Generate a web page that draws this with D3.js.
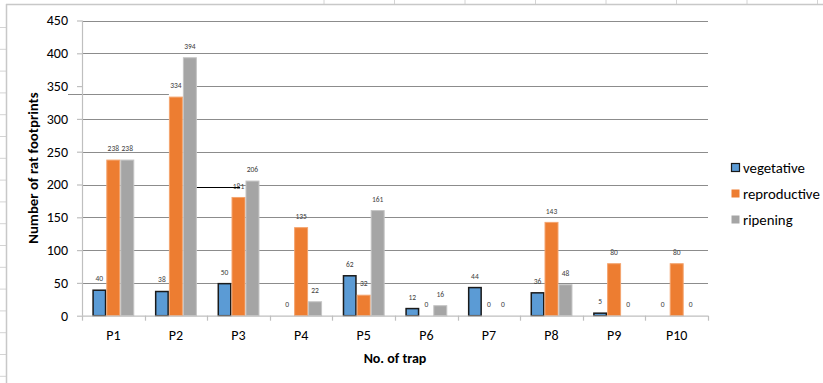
<!DOCTYPE html>
<html>
<head>
<meta charset="utf-8">
<script src="https://cdn.jsdelivr.net/npm/d3@7/dist/d3.min.js"></script>
<style>
  html, body { margin: 0; padding: 0; background: #fff; }
  svg { display: block; }
  text { font-family: Calibri, Carlito, Lato, "Noto Sans", sans-serif; }
</style>
</head>
<body>
<svg id="chart" width="823" height="383"></svg>
<script>
// Trap categories and rat-footprint counts per crop stage
const categories = ["P1", "P2", "P3", "P4", "P5", "P6", "P7", "P8", "P9", "P10"];
const seriesNames = ["vegetative", "reproductive", "ripening"];
const vegetative   = [40, 38, 50, 0, 62, 12, 44, 36, 5, 0];
const reproductive = [238, 334, 181, 135, 32, 0, 0, 143, 80, 80];
const ripening     = [238, 394, 206, 22, 161, 16, 0, 48, 0, 0];
const yTicks = [0, 50, 100, 150, 200, 250, 300, 350, 400, 450];

const seriesValues = [vegetative, reproductive, ripening];
const colors = ["#5B9BD5", "#ED7D31", "#A5A5A5"];
const strokes = ["#1a1a1a", "#f4a46e", "#c4c4c4"];

const svg = d3.select("#chart");
const W = 823, H = 383;
const plot = { left: 82, right: 708, top: 20.5, bottom: 315.7 };
const fontStack = "Calibri, Carlito, Lato, 'Noto Sans', sans-serif";

// Worksheet cells behind the chart object
const sheet = svg.append("g");
for (let x = 324; x < W; x += 70.5) {
  sheet.append("line").attr("x1", x).attr("x2", x).attr("y1", 0).attr("y2", 4)
    .attr("stroke", "#d4d4d4").attr("stroke-width", 1);
}
for (let y = 27.5; y < H; y += 21.8) {
  sheet.append("line").attr("x1", 0).attr("x2", 6).attr("y1", y).attr("y2", y)
    .attr("stroke", "#d4d4d4").attr("stroke-width", 1);
}
// Chart object frame
svg.append("line").attr("x1", 6).attr("x2", W).attr("y1", 4.5).attr("y2", 4.5)
  .attr("stroke", "#c8c8c8").attr("stroke-width", 1.5);
svg.append("line").attr("x1", 6.5).attr("x2", 6.5).attr("y1", 4).attr("y2", H)
  .attr("stroke", "#c8c8c8").attr("stroke-width", 1.5);

const x0 = d3.scaleBand().domain(categories).range([plot.left, plot.right]).padding(0);
const x1 = d3.scaleBand().domain(seriesNames)
  .range([x0.bandwidth() * 0.165, x0.bandwidth() * 0.835]).padding(0);
const y = d3.scaleLinear().domain([0, 450]).range([plot.bottom, plot.top]);

// Ends of the stray connector near P3 (it replaces a piece of the 200 gridline)
const strayX1 = x0("P2") + x1("ripening") + x1.bandwidth();
const strayX2 = x0("P3") + x1("reproductive") + 8.5;

// Horizontal gridlines
const grid = svg.append("g");
const gridSeg = (xa, xb, yy) => grid.append("line").attr("x1", xa).attr("x2", xb)
  .attr("y1", yy).attr("y2", yy).attr("stroke", "#8c8c8c").attr("stroke-width", 1);
yTicks.filter(t => t > 0).forEach(t => {
  const yy = Math.round(y(t)) + 0.5;
  if (t === 350) {
    gridSeg(strayX1, plot.right, yy);
    // offset stretch of this gridline
    gridSeg(plot.left - 14, x0("P2") + x1("reproductive"), yy + 8);
  } else if (t === 200) {
    gridSeg(plot.left, strayX1, yy);
    gridSeg(strayX2, plot.right, yy);
  } else {
    gridSeg(plot.left, plot.right, yy);
  }
});

// Bars
const groups = svg.append("g").selectAll("g").data(categories).join("g")
  .attr("transform", d => `translate(${x0(d)},0)`);

seriesNames.forEach((s, si) => {
  groups.append("rect")
    .attr("x", x1(s) + (si === 0 ? 0.75 : 0.5))
    .attr("width", x1.bandwidth() - (si === 0 ? 1.5 : 1))
    .attr("y", (d, i) => y(seriesValues[si][i]) + (si === 0 ? 0.75 : 0.5))
    .attr("height", (d, i) => Math.max(0, y(0) - y(seriesValues[si][i]) - (si === 0 ? 0.75 : 0.5)))
    .attr("fill", colors[si])
    .attr("stroke", (d, i) => seriesValues[si][i] > 0 ? strokes[si] : "none")
    .attr("stroke-width", si === 0 ? 1.5 : 1);
});

// Stray connector line near P3
svg.append("line")
  .attr("x1", strayX1).attr("x2", strayX2)
  .attr("y1", Math.round(y(200)) + 2.5).attr("y2", Math.round(y(200)) + 2.5)
  .attr("stroke", "#000").attr("stroke-width", 1);

// Value labels
seriesNames.forEach((s, si) => {
  groups.append("text")
    .attr("x", x1(s) + x1.bandwidth() / 2)
    .attr("y", (d, i) => y(seriesValues[si][i]) - 8.3)
    .attr("text-anchor", "middle")
    .attr("font-size", 7.5)
    .attr("fill", "#404040")
    .text((d, i) => seriesValues[si][i]);
});

// Axes
const xAxis = svg.append("g").attr("transform", `translate(0,${plot.bottom})`)
  .call(d3.axisBottom(x0).tickSize(0).tickPadding(14));
xAxis.select(".domain").remove();
xAxis.selectAll("text").attr("font-size", 14).attr("fill", "#000")
  .style("font-family", fontStack);
xAxis.append("line").attr("x1", plot.left).attr("x2", plot.right)
  .attr("y1", 0.5).attr("y2", 0.5).attr("stroke", "#bfbfbf").attr("stroke-width", 1.2);
d3.range(categories.length + 1).forEach(i => {
  const xx = Math.round(plot.left + i * x0.bandwidth()) + 0.5;
  xAxis.append("line").attr("x1", xx).attr("x2", xx).attr("y1", 0).attr("y2", 5)
    .attr("stroke", "#bfbfbf").attr("stroke-width", 1.2);
});

const yAxis = svg.append("g").attr("transform", `translate(${plot.left},0)`)
  .call(d3.axisLeft(y).tickValues(yTicks).tickSize(5).tickPadding(9));
yAxis.select(".domain").attr("stroke", "#bfbfbf").attr("stroke-width", 1.2)
  .attr("d", `M0.5,${plot.top}V${plot.bottom}`);
yAxis.selectAll(".tick line").attr("stroke", "#bfbfbf").attr("stroke-width", 1.2);
yAxis.selectAll("text").attr("font-size", 14).attr("fill", "#000")
  .style("font-family", fontStack);

// Axis titles
svg.append("text").attr("x", (plot.left + plot.right) / 2).attr("y", 363)
  .attr("text-anchor", "middle").attr("font-size", 14).attr("font-weight", "bold")
  .text("No. of trap");
svg.append("text")
  .attr("transform", `translate(38,${(plot.top + plot.bottom) / 2}) rotate(-90)`)
  .attr("text-anchor", "middle").attr("font-size", 14.8).attr("font-weight", "bold")
  .text("Number of rat footprints");

// Legend
const legend = svg.append("g").attr("transform", "translate(731,163)");
seriesNames.forEach((s, si) => {
  const g = legend.append("g").attr("transform", `translate(0,${si * 26})`);
  g.append("rect").attr("x", 0.5).attr("y", 0.5).attr("width", 8).attr("height", 8)
    .attr("fill", colors[si]).attr("stroke", si === 0 ? "#1a1a1a" : "none")
    .attr("stroke-width", 1.2);
  g.append("text").attr("x", 12).attr("y", 10).attr("font-size", 14.8).attr("fill", "#000")
    .text(s);
});
</script>
</body>
</html>
